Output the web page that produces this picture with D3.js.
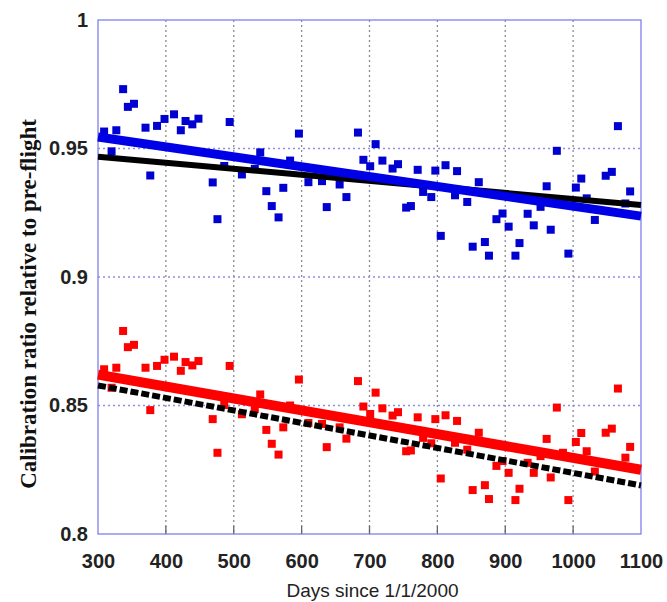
<!DOCTYPE html>
<html>
<head>
<meta charset="utf-8">
<script src="https://cdn.jsdelivr.net/npm/d3@7"></script>
<style>
  body { margin: 0; background: #fff; }
</style>
</head>
<body>
<script>
const width = 667;
const height = 602;
const margin = { top: 20, right: 26, bottom: 68, left: 98 };

// days since 1/1/2000 for each calibration (both bands share them)
const days = [
  309, 327, 320, 337, 344, 353, 370, 377, 387, 398, 412, 422, 429, 439, 448,
  469, 476, 494, 486, 512, 531, 539, 548, 556, 566, 573, 583, 596, 610, 630,
  637, 656, 666, 683, 691, 701, 709, 719, 734, 742, 754, 761, 771, 779, 791,
  797, 805, 812, 826, 829, 844, 852, 861, 870, 876, 887, 896, 905, 915, 921,
  933, 942, 952, 961, 967, 976, 985, 993, 1004, 1012, 1020, 1032, 1048, 1057,
  1066, 1077, 1084
];

const blueValues = [
  0.9566, 0.9571, 0.9489, 0.9731, 0.9662, 0.9674, 0.9581, 0.9395, 0.9588, 0.9615,
  0.9633, 0.9571, 0.9607, 0.9594, 0.9616, 0.9368, 0.9225, 0.9603, 0.9432, 0.9399,
  0.9421, 0.9485, 0.9334, 0.9276, 0.9232, 0.9347, 0.9453, 0.9558, 0.9369, 0.9373,
  0.9272, 0.9360, 0.9311, 0.9562, 0.9456, 0.9431, 0.9517, 0.9453, 0.9422, 0.9439,
  0.9270, 0.9276, 0.9417, 0.9331, 0.9311, 0.9414, 0.9160, 0.9435, 0.9318, 0.9412,
  0.9292, 0.9118, 0.9369, 0.9136, 0.9083, 0.9225, 0.9247, 0.9196, 0.9083, 0.9132,
  0.9246, 0.9201, 0.9273, 0.9353, 0.9184, 0.9491, 0.9299, 0.9091, 0.9348, 0.9383,
  0.9306, 0.9222, 0.9394, 0.9409, 0.9587, 0.9286, 0.9333
];

const redValues = [
  0.8641, 0.8647, 0.8569, 0.8790, 0.8727, 0.8736, 0.8647, 0.8482, 0.8654, 0.8678,
  0.8690, 0.8635, 0.8669, 0.8656, 0.8673, 0.8447, 0.8316, 0.8654, 0.8502, 0.8466,
  0.8486, 0.8543, 0.8405, 0.8351, 0.8309, 0.8415, 0.8500, 0.8601, 0.8432, 0.8428,
  0.8338, 0.8415, 0.8371, 0.8595, 0.8496, 0.8467, 0.8550, 0.8489, 0.8461, 0.8474,
  0.8322, 0.8325, 0.8454, 0.8374, 0.8353, 0.8447, 0.8216, 0.8462, 0.8355, 0.8440,
  0.8328, 0.8171, 0.8394, 0.8190, 0.8136, 0.8265, 0.8284, 0.8238, 0.8132, 0.8176,
  0.8277, 0.8238, 0.8303, 0.8370, 0.8220, 0.8492, 0.8316, 0.8132, 0.8358, 0.8393,
  0.8322, 0.8243, 0.8394, 0.8410, 0.8566, 0.8297, 0.8339
];

// trend lines, end points as [day, value]
const blueFit = [[300, 0.9545], [1100, 0.9237]];
const blackFit = [[300, 0.9468], [1100, 0.9280]];
const redFit = [[300, 0.8620], [1100, 0.8250]];
const blackDashedFit = [[300, 0.8578], [1100, 0.8189]];

const xTicks = [300, 400, 500, 600, 700, 800, 900, 1000, 1100];
const yTicks = [0.8, 0.85, 0.9, 0.95, 1];

const svg = d3.select('body')
  .append('svg')
  .attr('width', width)
  .attr('height', height);

const xScale = d3.scaleLinear()
  .domain([300, 1100])
  .range([margin.left, width - margin.right]);

const yScale = d3.scaleLinear()
  .domain([0.8, 1])
  .range([height - margin.bottom, margin.top]);

const x0 = margin.left;
const x1 = width - margin.right;
const y0 = height - margin.bottom;
const y1 = margin.top;

// grid
svg.append('g')
  .selectAll('line')
  .data(xTicks.slice(1, -1))
  .enter()
  .append('line')
  .attr('x1', d => xScale(d))
  .attr('x2', d => xScale(d))
  .attr('y1', y1)
  .attr('y2', y0)
  .attr('stroke', '#8a8a9a')
  .attr('stroke-width', 1.3)
  .attr('stroke-dasharray', '2,3');

svg.append('g')
  .selectAll('line')
  .data(yTicks.slice(1, -1))
  .enter()
  .append('line')
  .attr('x1', x0)
  .attr('x2', x1)
  .attr('y1', d => yScale(d))
  .attr('y2', d => yScale(d))
  .attr('stroke', '#8f8fe0')
  .attr('stroke-width', 1.3)
  .attr('stroke-dasharray', '2,3');

// frame
svg.append('rect')
  .attr('x', x0)
  .attr('y', y1)
  .attr('width', x1 - x0)
  .attr('height', y0 - y1)
  .attr('fill', 'none')
  .attr('stroke', '#8080f0')
  .attr('stroke-width', 1.3);

// small inward ticks along the bottom
svg.append('g')
  .selectAll('line')
  .data(xTicks.slice(1, -1))
  .enter()
  .append('line')
  .attr('x1', d => xScale(d))
  .attr('x2', d => xScale(d))
  .attr('y1', y0)
  .attr('y2', y0 - 8)
  .attr('stroke', '#666')
  .attr('stroke-width', 1.3);

const xAxis = d3.axisBottom(xScale)
  .tickValues(xTicks)
  .tickSize(0)
  .tickPadding(20)
  .tickFormat(d3.format('d'));

const yAxis = d3.axisLeft(yScale)
  .tickValues(yTicks)
  .tickSize(0)
  .tickPadding(10)
  .tickFormat(d => d === 1 ? '1' : d3.format('.2~f')(d));

const gx = svg.append('g')
  .attr('transform', `translate(0, ${y0})`)
  .call(xAxis);

const gy = svg.append('g')
  .attr('transform', `translate(${x0}, 0)`)
  .call(yAxis);

[gx, gy].forEach(g => {
  g.select('.domain').remove();
  g.selectAll('text')
    .attr('font-family', 'Liberation Sans, Arial, sans-serif')
    .attr('font-weight', 'bold')
    .attr('font-size', '20px')
    .attr('fill', '#222');
});

svg.append('text')
  .attr('x', (x0 + x1) / 2 + 3)
  .attr('y', 597)
  .attr('text-anchor', 'middle')
  .attr('font-family', 'Liberation Sans, Arial, sans-serif')
  .attr('font-size', '19px')
  .attr('fill', '#222')
  .text('Days since 1/1/2000');

svg.append('text')
  .attr('transform', 'translate(36, 304) rotate(-90)')
  .attr('text-anchor', 'middle')
  .attr('font-family', 'Liberation Serif, Times New Roman, serif')
  .attr('font-weight', 'bold')
  .attr('font-size', '23px')
  .attr('fill', '#111')
  .text('Calibration ratio relative to pre-flight');

const plot = svg.append('g');

const line = d3.line()
  .x(d => xScale(d[0]))
  .y(d => yScale(d[1]));

const blueData = days.map((d, i) => [d, blueValues[i]]);
const redData = days.map((d, i) => [d, redValues[i]]);
const size = 8;

plot.selectAll('rect.blue')
  .data(blueData)
  .enter()
  .append('rect')
  .attr('class', 'blue')
  .attr('x', d => xScale(d[0]) - size / 2)
  .attr('y', d => yScale(d[1]) - size / 2)
  .attr('width', size)
  .attr('height', size)
  .attr('fill', '#0000d0');

plot.selectAll('rect.red')
  .data(redData)
  .enter()
  .append('rect')
  .attr('class', 'red')
  .attr('x', d => xScale(d[0]) - size / 2)
  .attr('y', d => yScale(d[1]) - size / 2)
  .attr('width', size)
  .attr('height', size)
  .attr('fill', '#ff0000');

plot.append('path')
  .datum(blackFit)
  .attr('d', line)
  .attr('stroke', '#000')
  .attr('stroke-width', 6)
  .attr('fill', 'none');

plot.append('path')
  .datum(blueFit)
  .attr('d', line)
  .attr('stroke', '#0000e6')
  .attr('stroke-width', 9)
  .attr('fill', 'none');

plot.append('path')
  .datum(redFit)
  .attr('d', line)
  .attr('stroke', '#ff0000')
  .attr('stroke-width', 10)
  .attr('fill', 'none');

plot.append('path')
  .datum(blackDashedFit)
  .attr('d', line)
  .attr('stroke', '#000')
  .attr('stroke-width', 6)
  .attr('stroke-dasharray', '8,3')
  .attr('fill', 'none');
</script>
</body>
</html>
